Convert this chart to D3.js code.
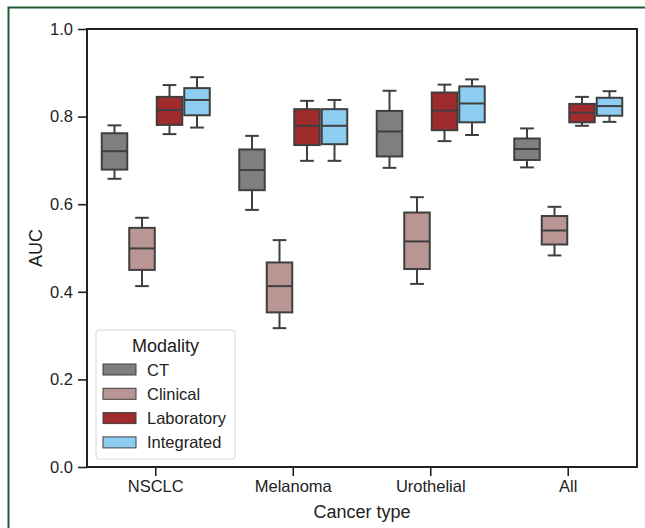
<!DOCTYPE html>
<html>
<head>
<meta charset="utf-8">
<script src="https://cdn.jsdelivr.net/npm/d3@7.9.0/dist/d3.min.js"></script>
<style>
  body { margin: 0; background: #fff; }
  svg { display: block; font-family: "Liberation Sans", Arial, sans-serif; }
</style>
</head>
<body>
<svg id="chart" width="645" height="528"></svg>
<script>
const cancerTypes = ['NSCLC', 'Melanoma', 'Urothelial', 'All'];
const modalities = ['CT', 'Clinical', 'Laboratory', 'Integrated'];
const modalityColors = ['#7f7f7f', '#b99593', '#a02b2d', '#8ecdf2'];
const yTicks = [0, 0.2, 0.4, 0.6, 0.8, 1.0];

// [whiskerLow, q1, median, q3, whiskerHigh] per cancer type, per modality
const ctStats = [
  [0.658, 0.679, 0.721, 0.762, 0.780],
  [0.587, 0.632, 0.678, 0.725, 0.756],
  [0.683, 0.709, 0.766, 0.813, 0.859],
  [0.684, 0.701, 0.726, 0.750, 0.773]
];
const clinicalStats = [
  [0.413, 0.450, 0.499, 0.546, 0.569],
  [0.317, 0.353, 0.413, 0.467, 0.518],
  [0.418, 0.452, 0.515, 0.581, 0.616],
  [0.483, 0.508, 0.540, 0.573, 0.594]
];
const laboratoryStats = [
  [0.760, 0.781, 0.815, 0.845, 0.872],
  [0.699, 0.735, 0.779, 0.817, 0.836],
  [0.744, 0.769, 0.814, 0.855, 0.873],
  [0.779, 0.787, 0.809, 0.829, 0.845]
];
const integratedStats = [
  [0.775, 0.803, 0.838, 0.865, 0.890],
  [0.699, 0.737, 0.779, 0.817, 0.838],
  [0.758, 0.787, 0.830, 0.869, 0.885],
  [0.788, 0.802, 0.824, 0.843, 0.858]
];
const allStats = [ctStats, clinicalStats, laboratoryStats, integratedStats];

const svg = d3.select('#chart');
const m = {left: 87, right: 637, top: 29, bottom: 467};
const edge = '#3f3f3f';
const ink = '#222';

// green frame
svg.append('path')
  .attr('d', 'M8.5,528 L8.5,7.5 L645,7.5')
  .attr('fill', 'none')
  .attr('stroke', '#1d5c33')
  .attr('stroke-width', 2);

const x = d3.scaleBand().domain(cancerTypes).range([m.left, m.right]);
const y = d3.scaleLinear().domain([0, 1]).range([m.bottom, m.top]);
const xInner = d3.scaleBand().domain(modalities)
  .range([0, x.bandwidth() * 0.8]);

const rows = [];
cancerTypes.forEach((c, ci) => {
  modalities.forEach((mod, mi) => {
    const s = allStats[mi][ci];
    rows.push({c, mod, mi, lo: s[0], q1: s[1], med: s[2], q3: s[3], hi: s[4]});
  });
});

const g = svg.append('g');
const boxes = g.selectAll('g.box').data(rows).join('g').attr('class', 'box')
  .attr('transform', d => `translate(${x(d.c) + x.bandwidth() * 0.1 + xInner(d.mod)},0)`);

const bw = xInner.bandwidth();
const cx = bw / 2;
const capW = bw * 0.5;

boxes.append('line')
  .attr('x1', cx).attr('x2', cx)
  .attr('y1', d => y(d.hi)).attr('y2', d => y(d.q3))
  .attr('stroke', edge).attr('stroke-width', 2);
boxes.append('line')
  .attr('x1', cx).attr('x2', cx)
  .attr('y1', d => y(d.q1)).attr('y2', d => y(d.lo))
  .attr('stroke', edge).attr('stroke-width', 2);
boxes.append('line')
  .attr('x1', cx - capW / 2).attr('x2', cx + capW / 2)
  .attr('y1', d => y(d.hi)).attr('y2', d => y(d.hi))
  .attr('stroke', edge).attr('stroke-width', 2);
boxes.append('line')
  .attr('x1', cx - capW / 2).attr('x2', cx + capW / 2)
  .attr('y1', d => y(d.lo)).attr('y2', d => y(d.lo))
  .attr('stroke', edge).attr('stroke-width', 2);
boxes.append('rect')
  .attr('x', 1).attr('width', bw - 2)
  .attr('y', d => y(d.q3)).attr('height', d => y(d.q1) - y(d.q3))
  .attr('fill', d => modalityColors[d.mi])
  .attr('stroke', edge).attr('stroke-width', 2);
boxes.append('line')
  .attr('x1', 1).attr('x2', bw - 1)
  .attr('y1', d => y(d.med)).attr('y2', d => y(d.med))
  .attr('stroke', edge).attr('stroke-width', 2);

// axes
const yAxis = svg.append('g')
  .attr('transform', `translate(${m.left},0)`)
  .call(d3.axisLeft(y).tickValues(yTicks).tickFormat(d3.format('.1f')).tickSize(9).tickPadding(5));
const xAxis = svg.append('g')
  .attr('transform', `translate(0,${m.bottom})`)
  .call(d3.axisBottom(x).tickSize(9).tickPadding(4));
[xAxis, yAxis].forEach(a => {
  a.select('.domain').remove();
  a.selectAll('line').attr('stroke', ink).attr('stroke-width', 1.6);
  a.selectAll('text').attr('fill', ink).style('font-size', '16.5px')
    .style('font-family', '"Liberation Sans", Arial, sans-serif');
});

// spines
svg.append('rect')
  .attr('x', m.left).attr('y', m.top)
  .attr('width', m.right - m.left).attr('height', m.bottom - m.top)
  .attr('fill', 'none').attr('stroke', ink).attr('stroke-width', 2);

svg.append('text')
  .attr('transform', `translate(42,${(m.top + m.bottom) / 2}) rotate(-90)`)
  .attr('text-anchor', 'middle')
  .attr('fill', ink).style('font-size', '18px')
  .text('AUC');
svg.append('text')
  .attr('x', (m.left + m.right) / 2).attr('y', 518)
  .attr('text-anchor', 'middle')
  .attr('fill', ink).style('font-size', '18px')
  .text('Cancer type');

// legend
const lg = svg.append('g').attr('transform', 'translate(96,330)');
lg.append('rect')
  .attr('width', 139).attr('height', 129).attr('rx', 3)
  .attr('fill', '#fff').attr('fill-opacity', 0.85)
  .attr('stroke', '#d6d6d6').attr('stroke-width', 1);
lg.append('text')
  .attr('x', 69.5).attr('y', 21.5).attr('text-anchor', 'middle')
  .attr('fill', ink).style('font-size', '18px')
  .text('Modality');
const items = lg.selectAll('g.item').data(modalities).join('g').attr('class', 'item')
  .attr('transform', (d, i) => `translate(0,${39 + i * 24.3})`);
items.append('rect')
  .attr('x', 7).attr('y', -5).attr('width', 33).attr('height', 11)
  .attr('fill', (d, i) => modalityColors[i])
  .attr('stroke', edge).attr('stroke-width', 1);
items.append('text')
  .attr('x', 51).attr('y', 6.5)
  .attr('fill', ink).style('font-size', '16.5px')
  .text(d => d);
</script>
</body>
</html>
